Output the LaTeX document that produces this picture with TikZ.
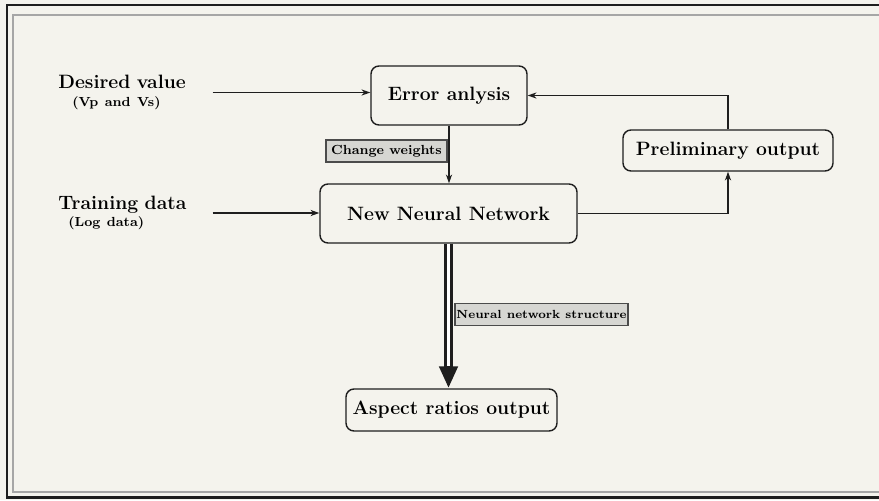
\documentclass[tikz,border=0pt]{standalone}
\usepackage{xcolor}
\usetikzlibrary{arrows.meta}
\definecolor{paper}{RGB}{244,243,237}
\definecolor{tagfill}{RGB}{214,214,210}
\definecolor{ink}{RGB}{30,30,30}
\newcommand{\subfont}{\fontsize{7.5}{9}\selectfont\bfseries}

\begin{document}
\begin{tikzpicture}[x=0.2mm,y=-0.2mm,
  box/.style={draw=ink,line width=0.8pt,rounded corners=1.6mm,inner sep=0pt,font=\fontsize{11}{13}\selectfont\bfseries},
  tag/.style={draw=ink!80,fill=tagfill,line width=0.6pt,inner sep=0pt,minimum height=4.4mm,font=\subfont},
  inlabel/.style={anchor=west,align=left,inner sep=0pt,font=\fontsize{11}{13}\selectfont\bfseries},
  arr/.style={ink,line width=0.7pt,-{Stealth[length=5pt,width=3.5pt]}},
  bigarr/.style={ink,line width=4.8pt,-{Triangle[length=12.5pt,width=10pt]},
    postaction={draw=white,line width=2pt,-,shorten >=12.5pt}}]
\useasboundingbox (0,0) rectangle (879,500);
\clip (0,0) rectangle (879,500);
\fill[paper] (0,0) rectangle (879,500);
% frame
\draw[ink,line width=1.7pt] (7,5) rectangle (900,497);
\draw[black!35,line width=0.6pt] (13,15) rectangle (900,492);

% boxes
\node[box,minimum width=31.2mm,minimum height=11.8mm] (err) at (449,95.5) {Error anlysis};
\node[box,minimum width=51.4mm,minimum height=11.8mm] (nnn) at (448.5,213.5) {New Neural Network};
\node[box,minimum width=42mm,minimum height=8.2mm] (pre) at (728,150.5) {Preliminary output};
\node[box,minimum width=42.2mm,minimum height=8.4mm] (asp) at (451.5,410) {Aspect ratios output};

% inputs
\node[inlabel,text width=30.8mm] (des) at (58,92.5)
  {Desired value\\[-3pt]\hspace*{2.8mm}{\subfont (Vp and Vs)}};
\node[inlabel,text width=30.8mm] (trn) at (58,213)
  {Training data\\[-3pt]\hspace*{2mm}{\subfont (Log data)}};

% tags
\node[tag,minimum width=24.2mm] (cw) at (386.5,151) {Change weights};
\node[tag,minimum width=34.6mm,font=\fontsize{6.7}{8}\selectfont\bfseries] (nns) at (541.5,314.5) {Neural network structure};

% connectors
\draw[arr] (des.east) -- (des.east -| err.west);
\draw[arr] (trn.east) -- (trn.east -| nnn.west);
\draw[arr] (err.south) -- (err.south |- nnn.north);
\draw[arr] (nnn.east) -| (pre.south);
\draw[arr] (pre.north) |- (err.east);
\draw[bigarr] (nnn.south) -- (nnn.south |- asp.north);
\end{tikzpicture}
\end{document}
